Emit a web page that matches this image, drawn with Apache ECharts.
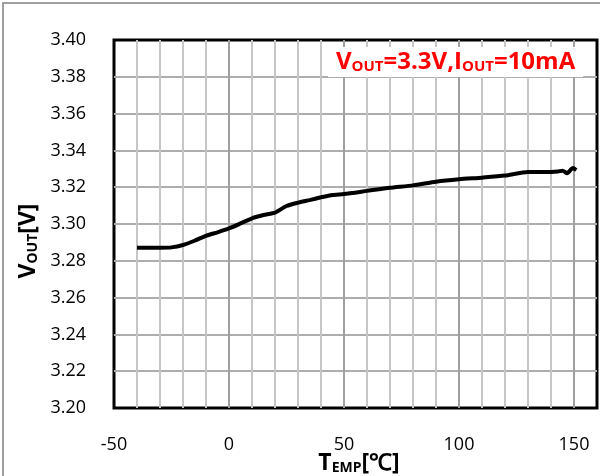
<!DOCTYPE html>
<html>
<head>
  <meta charset="UTF-8" />
  <title>VOUT vs Temperature</title>
  <script src="https://cdn.jsdelivr.net/npm/echarts@6/dist/echarts.min.js"></script>
  <style>
    body { margin: 0; background: #fff; }
    #chart { width: 600px; height: 476px; }
  </style>
</head>
<body>
  <div id="chart"></div>
  <script>
    // temperature (°C) and output voltage (V)
    const temps = [-40, -30, -25, -20, -15, -10, -5, 0, 5, 10, 15, 20, 25, 30, 35, 40, 45, 50,
      60, 70, 80, 90, 100, 110, 120, 130, 140, 143, 145, 147, 149.5, 151];
    const volts = [3.2871, 3.2871, 3.2873, 3.2886, 3.2909, 3.2936, 3.2955, 3.2976, 3.3003, 3.3031,
      3.3049, 3.3062, 3.3098, 3.3116, 3.3130, 3.3145, 3.3158, 3.3163, 3.3180, 3.3197, 3.3210,
      3.3230, 3.3243, 3.3252, 3.3263, 3.3283, 3.3283, 3.3285, 3.3290, 3.3276, 3.3304, 3.3293];
    const xLabels = [-50, 0, 50, 100, 150];

    const font = 'Open Sans';
    const chart = echarts.init(document.getElementById('chart'));

    chart.setOption({
      animation: false,
      textStyle: { fontFamily: font },
      graphic: [{
        type: 'rect',
        shape: { x: 3, y: 3, width: 620, height: 500 },
        style: { fill: 'none', stroke: '#a0a0a0', lineWidth: 2 }
      }],
      title: {
        left: 328,
        top: 47,
        padding: [0, 8, 0, 8],
        text: '{b|V}{s|OUT}{b|=3.3V,I}{s|OUT}{b|=10mA}',
        backgroundColor: '#fff',
        textStyle: {
          rich: {
            b: { fontFamily: font, fontWeight: 'bold', fontSize: 24, lineHeight: 30, color: '#ff0000', verticalAlign: 'bottom', padding: [3, 0, 3, 0] },
            s: { fontFamily: font, fontWeight: 'bold', fontSize: 15, lineHeight: 15, color: '#ff0000', verticalAlign: 'bottom', padding: [0, 0, 3, 0] }
          }
        }
      },
      grid: {
        left: 114, right: 3, top: 40, bottom: 68,
        containLabel: false,
        outerBoundsMode: 'none',
        show: true, borderColor: '#000', borderWidth: 3
      },
      xAxis: {
        type: 'value',
        min: -50, max: 160, interval: 10,
        axisLine: { show: false },
        axisTick: { show: false },
        axisLabel: {
          margin: 28, fontSize: 18, color: '#000', fontFamily: font,
          formatter: v => xLabels.includes(v) ? String(v) : ''
        },
        splitLine: {
          showMinLine: false,
          showMaxLine: false,
          // first drawn line is -40, so every 5th (0, 50, 100, 150) is the darker one
          lineStyle: { width: 2, color: ['#c6c6c6', '#c6c6c6', '#c6c6c6', '#c6c6c6', '#a0a0a0'] }
        },
        name: '{b|T}{s|EMP}{b|[℃]}',
        nameLocation: 'middle',
        nameGap: 39,
        nameMoveOverlap: false,
        nameTextStyle: {
          backgroundColor: '#fff',
          padding: [0, 0, 0, 7],
          rich: {
            b: { fontFamily: font, fontWeight: 'bold', fontSize: 23, lineHeight: 28, color: '#000', verticalAlign: 'bottom' },
            s: { fontFamily: font, fontWeight: 'bold', fontSize: 14, lineHeight: 14, color: '#000', verticalAlign: 'bottom' }
          }
        }
      },
      yAxis: {
        type: 'value',
        min: 3.2, max: 3.4, interval: 0.02,
        axisLine: { show: false },
        axisTick: { show: false },
        axisLabel: {
          margin: 28, fontSize: 18, color: '#000', fontFamily: font,
          formatter: v => v.toFixed(2)
        },
        splitLine: {
          showMinLine: false,
          showMaxLine: false,
          lineStyle: { width: 2, color: '#adadad' }
        },
        name: '{b|V}{s|OUT}{b|[V]}',
        nameLocation: 'middle',
        nameRotate: 90,
        nameGap: 74,
        nameMoveOverlap: false,
        nameTextStyle: {
          padding: [0, 34, 0, 0],
          rich: {
            b: { fontFamily: font, fontWeight: 'bold', fontSize: 23, lineHeight: 28, color: '#000', verticalAlign: 'bottom' },
            s: { fontFamily: font, fontWeight: 'bold', fontSize: 14, lineHeight: 14, color: '#000', verticalAlign: 'bottom' }
          }
        }
      },
      series: [{
        type: 'line',
        data: temps.map((t, i) => [t, volts[i]]),
        showSymbol: false,
        smooth: 0.2,
        lineStyle: { color: '#000', width: 4 }
      }]
    });
  </script>
</body>
</html>
